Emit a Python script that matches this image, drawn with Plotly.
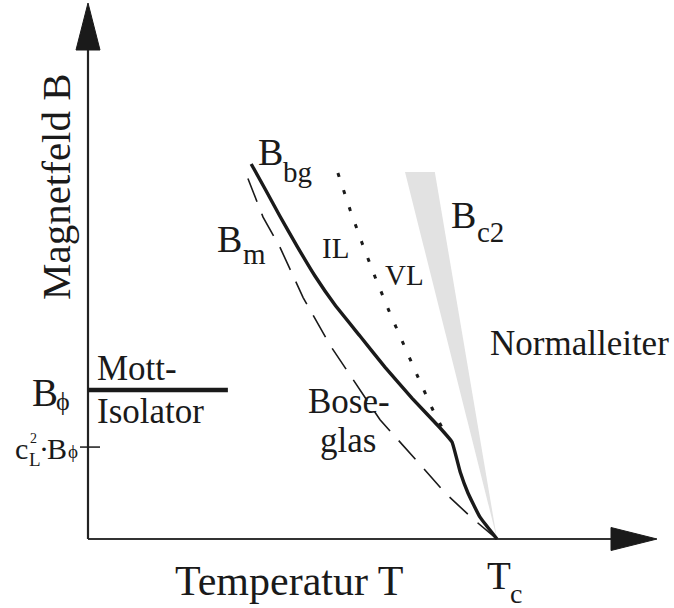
import plotly.graph_objects as go

# ---- data (T in units of Tc, B in units of B_phi) ----
bbg_T = [0.399, 0.433, 0.469, 0.511, 0.555, 0.604, 0.665, 0.726, 0.792, 0.861, 0.890, 0.910, 0.929, 0.958, 1.000]
bbg_B = [2.517, 2.349, 2.168, 1.966, 1.765, 1.570, 1.362, 1.154, 0.946, 0.745, 0.651, 0.450, 0.309, 0.148, 0.000]

bm_T = [0.391, 0.428, 0.469, 0.526, 0.592, 0.641, 0.714, 0.812, 0.873, 0.939, 1.00]
bm_B = [2.42, 2.16, 1.96, 1.62, 1.30, 1.10, 0.80, 0.50, 0.31, 0.14, 0.00]

vl_T = [0.611, 0.641, 0.670, 0.702, 0.738, 0.775, 0.812, 0.841, 0.866]
vl_B = [2.456, 2.208, 1.987, 1.758, 1.517, 1.282, 1.054, 0.879, 0.745]

bc2_T = [0.775, 0.848, 1.00]
bc2_B = [2.463, 2.463, 0.00]

mott_T = [0.0, 0.342]
mott_B = [1.0, 1.0]

cL2 = 0.617  # c_L^2 * B_phi

# ---- geometry of the drawing ----
W, H = 674, 608
x0px, y0px = 88, 539          # origin pixel
sx, sy = 409.0, 149.0         # pixels per unit
xr = [-x0px / sx, (W - x0px) / sx]
yr = [-(H - y0px) / sy, y0px / sy]

def px2T(px):
    return (px - x0px) / sx

def py2B(py):
    return (y0px - py) / sy

ink = "#1a1a1a"
fig = go.Figure()

# Bc2 wedge
fig.add_trace(go.Scatter(x=bc2_T, y=bc2_B, fill="toself", fillcolor="#e2e2e2",
                         line=dict(width=0), mode="lines", hoverinfo="skip"))

# axes
x_tip, x_base, x_half = px2T(657), px2T(611), 11.5 / sy
y_tip, y_base, y_half = py2B(3), py2B(50), 12 / sx
fig.add_trace(go.Scatter(x=[0, x_base], y=[0, 0], mode="lines",
                         line=dict(color="#333333", width=2.2), hoverinfo="skip"))
fig.add_trace(go.Scatter(x=[0, 0], y=[0, y_base], mode="lines",
                         line=dict(color="#222222", width=2.2), hoverinfo="skip"))
fig.add_trace(go.Scatter(x=[x_base, x_tip, x_base, x_base], y=[x_half, 0, -x_half, x_half],
                         fill="toself", fillcolor=ink, mode="lines",
                         line=dict(color=ink, width=1), hoverinfo="skip"))
fig.add_trace(go.Scatter(x=[-y_half, 0, y_half, -y_half], y=[y_base, y_tip, y_base, y_base],
                         fill="toself", fillcolor=ink, mode="lines",
                         line=dict(color=ink, width=1), hoverinfo="skip"))
# tick at c_L^2 B_phi
fig.add_trace(go.Scatter(x=[px2T(80), px2T(100)], y=[cL2, cL2], mode="lines",
                         line=dict(color=ink, width=1.5), hoverinfo="skip"))

# curves
fig.add_trace(go.Scatter(x=bm_T, y=bm_B, mode="lines",
                         line=dict(color=ink, width=1.6, dash="25px,13px"), hoverinfo="skip"))
fig.add_trace(go.Scatter(x=vl_T, y=vl_B, mode="lines",
                         line=dict(color=ink, width=3, dash="4px,14px"), hoverinfo="skip"))
fig.add_trace(go.Scatter(x=bbg_T, y=bbg_B, mode="lines", line_shape="spline",
                         line=dict(color=ink, width=3.4, smoothing=0.3), hoverinfo="skip"))
fig.add_trace(go.Scatter(x=mott_T, y=mott_B, mode="lines",
                         line=dict(color=ink, width=4.5), hoverinfo="skip"))

FONT = "Liberation Serif"

def label(text, px, py, size, xanchor="left", angle=0):
    fig.add_annotation(text=text, x=px / W, y=1 - py / H, xref="paper", yref="paper",
                       xanchor=xanchor, yanchor="middle", showarrow=False,
                       textangle=angle, borderpad=0,
                       font=dict(family=FONT, size=size, color=ink))

label("Magnetfeld B", 56, 187, 41, xanchor="center", angle=-90)
label("Temperatur T", 289, 581, 42, xanchor="center")
label("Normalleiter", 579, 343, 35, xanchor="center")
label("Bose-", 349, 401, 35, xanchor="center")
label("glas", 348, 440, 35, xanchor="center")
label("Mott-", 96, 368, 35)
label("Isolator", 96, 411, 35)
# B_phi
label("B", 31, 392, 39)
label("ϕ", 55, 401, 26)
# c_L^2 . B_phi
label("c", 14, 448, 30)
label("2", 29, 438, 14)
label("L", 28, 459, 19)
label("·", 38, 448, 30)
label("B", 46, 448, 30)
label("ϕ", 67, 451, 19)
# B_bg
label("B", 257, 152, 38)
label("bg", 282, 172, 29)
# B_m
label("B", 216, 239, 38)
label("m", 242, 254, 29)
# B_c2
label("B", 450, 215, 38)
label("c2", 476, 232, 29)
# IL, VL
label("IL", 321, 248, 29)
label("VL", 384, 275, 29)
# T_c
label("T", 486, 575, 39)
label("c", 509, 593, 28)

fig.update_layout(
    width=W, height=H, margin=dict(l=0, r=0, t=0, b=0, pad=0),
    paper_bgcolor="white", plot_bgcolor="white", showlegend=False,
    xaxis=dict(range=xr, visible=False, fixedrange=True),
    yaxis=dict(range=yr, visible=False, fixedrange=True),
)
fig.write_html("out.html")
